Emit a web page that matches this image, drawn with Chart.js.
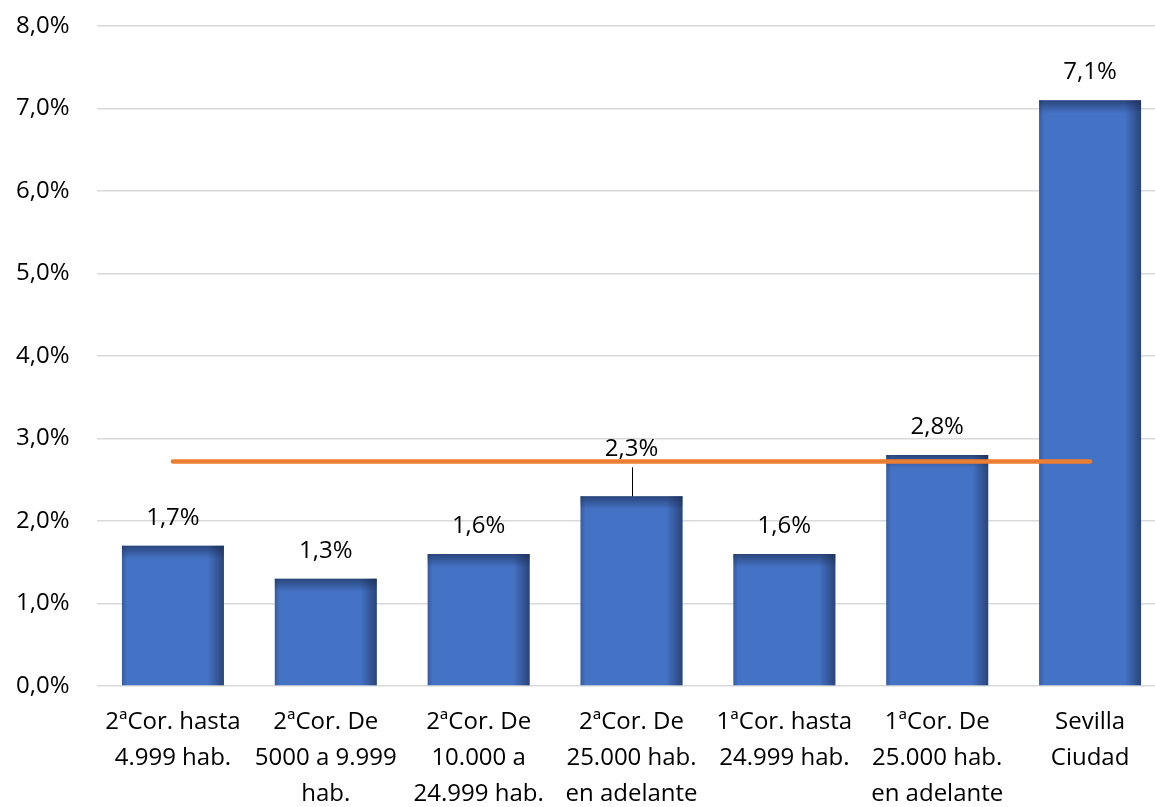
<!DOCTYPE html>
<html>
<head>
<meta charset="utf-8">
<script src="https://cdn.jsdelivr.net/npm/chart.js@4/dist/chart.umd.min.js"></script>
<style>
  html, body { margin: 0; padding: 0; background: #ffffff; overflow: hidden; }
  #wrap { width: 1155px; height: 807px; overflow: hidden; }
  canvas { display: block; }
</style>
</head>
<body>
<div id="wrap"><canvas id="chart" width="1168" height="807"></canvas></div>
<script>
// Categories (wrapped into lines for the axis)
const categories = [
  ["2ªCor. hasta", "4.999 hab."],
  ["2ªCor. De", "5000 a 9.999", "hab."],
  ["2ªCor. De", "10.000 a", "24.999 hab."],
  ["2ªCor. De", "25.000 hab.", "en adelante"],
  ["1ªCor. hasta", "24.999 hab."],
  ["1ªCor. De", "25.000 hab.", "en adelante"],
  ["Sevilla", "Ciudad"]
];

// Percentage per group
const values = [1.7, 1.3, 1.6, 2.3, 1.6, 2.8, 7.1];

// Overall average shown as a flat reference line
const averageValue = 2.72;
const averageLine = categories.map(() => averageValue);

// Y axis range and step
const yMin = 0;
const yMax = 8;
const yStep = 1;

const FONT = "'Open Sans', 'Noto Sans', sans-serif";
const fmt = v => v.toFixed(1).replace('.', ',') + '%';

// Shades the sides and top of each bar for a bevelled look
const barShading = {
  id: 'barShading',
  afterDatasetDraw(chart, args) {
    if (chart.data.datasets[args.index].type !== 'bar') return;
    const ctx = chart.ctx;
    args.meta.data.forEach(bar => {
      const left = bar.x - bar.width / 2;
      const right = bar.x + bar.width / 2;
      const top = bar.y;
      const bottom = bar.base;
      const h = bottom - top;
      ctx.save();
      // right edge
      let g = ctx.createLinearGradient(right - 16, 0, right, 0);
      g.addColorStop(0, 'rgba(25,40,75,0)');
      g.addColorStop(1, 'rgba(25,40,75,0.62)');
      ctx.fillStyle = g;
      ctx.fillRect(right - 16, top, 16, h);
      // top edge
      g = ctx.createLinearGradient(0, top, 0, top + 13);
      g.addColorStop(0, 'rgba(25,40,75,0.6)');
      g.addColorStop(1, 'rgba(25,40,75,0)');
      ctx.fillStyle = g;
      ctx.fillRect(left, top, right - left, Math.min(13, h));
      // left edge
      g = ctx.createLinearGradient(left, 0, left + 5, 0);
      g.addColorStop(0, 'rgba(25,40,75,0.3)');
      g.addColorStop(1, 'rgba(25,40,75,0)');
      ctx.fillStyle = g;
      ctx.fillRect(left, top, 5, h);
      ctx.restore();
    });
  }
};

// Value labels above the bars; the fourth one is lifted with a leader line
const valueLabels = {
  id: 'valueLabels',
  afterDatasetsDraw(chart) {
    const ctx = chart.ctx;
    chart.data.datasets.forEach((ds, di) => {
      if (ds.type !== 'bar') return;
      const meta = chart.getDatasetMeta(di);
      meta.data.forEach((bar, i) => {
        const lifted = i === 3;
        const y = lifted ? bar.y - 47 : bar.y - 28;
        ctx.save();
        if (lifted) {
          ctx.strokeStyle = '#000000';
          ctx.lineWidth = 1;
          ctx.beginPath();
          ctx.moveTo(Math.round(bar.x) + 0.5, bar.y - 29);
          ctx.lineTo(Math.round(bar.x) + 0.5, bar.y);
          ctx.stroke();
        }
        ctx.fillStyle = '#000000';
        ctx.font = '24px ' + FONT;
        ctx.textAlign = 'center';
        ctx.textBaseline = 'middle';
        ctx.fillText(fmt(ds.data[i]), bar.x, y);
        ctx.restore();
      });
    });
  }
};

new Chart(document.getElementById('chart'), {
  data: {
    labels: categories,
    datasets: [
      {
        type: 'line',
        data: averageLine,
        borderColor: '#ED7D31',
        borderWidth: 4.5,
        borderCapStyle: 'round',
        pointRadius: 0,
        fill: false,
        order: 0
      },
      {
        type: 'bar',
        data: values,
        backgroundColor: '#4472C4',
        borderWidth: 0,
        categoryPercentage: 1,
        barPercentage: 0.667,
        order: 1
      }
    ]
  },
  options: {
    responsive: false,
    devicePixelRatio: 1,
    animation: false,
    layout: { padding: { top: 26, right: 1.5, bottom: 0, left: 0 } },
    plugins: {
      legend: { display: false },
      tooltip: { enabled: false }
    },
    scales: {
      x: {
        grid: { display: false, drawTicks: false },
        border: { display: false },
        ticks: {
          color: '#000000',
          font: { family: FONT, size: 24, lineHeight: 1.5 },
          padding: 18,
          maxRotation: 0,
          autoSkip: false
        },
        afterFit(scale) {
          scale.height = 121;
          scale.paddingLeft = 0;
          scale.paddingRight = 0;
        }
      },
      y: {
        min: yMin,
        max: yMax,
        grid: { color: '#D9D9D9', lineWidth: 1.5, drawTicks: false },
        border: { display: false },
        ticks: {
          stepSize: yStep,
          color: '#000000',
          font: { family: FONT, size: 24 },
          padding: 27,
          callback: v => fmt(v)
        },
        afterFit(scale) {
          scale.width = 96.5;
          scale.paddingTop = 0;
          scale.paddingBottom = 0;
        }
      }
    }
  },
  plugins: [barShading, valueLabels]
});
</script>
</body>
</html>
